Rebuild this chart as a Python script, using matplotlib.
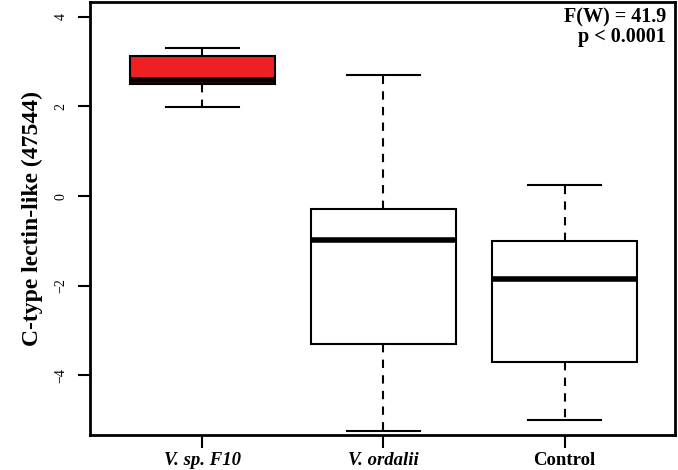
import matplotlib
matplotlib.use('Agg')
import matplotlib.pyplot as plt

# dữ liệu
groups = ['V. sp. F10', 'V. ordalii', 'Control']
q1 = [2.49, -3.30, -3.71]
med = [2.58, -0.97, -1.85]
q3 = [3.12, -0.28, -1.00]
whislo = [1.99, -5.25, -5.00]
whishi = [3.30, 2.70, 0.24]
box_colors = ['#ee2024', 'white', 'white']
yticks = [-4, -2, 0, 2, 4]

plt.rcParams['font.family'] = ['Liberation Serif', 'DejaVu Serif']

fig = plt.figure(figsize=(6.78, 4.70), dpi=100)
ax = fig.add_axes([90 / 678, 35 / 470, 585 / 678, 433 / 470])

stats = []
for i in range(len(groups)):
    stats.append({'med': med[i], 'q1': q1[i], 'q3': q3[i],
                  'whislo': whislo[i], 'whishi': whishi[i],
                  'fliers': [], 'label': groups[i]})

bp = ax.bxp(stats, positions=[1, 2, 3], widths=0.8, patch_artist=True,
            showfliers=False,
            boxprops=dict(linewidth=1.5, edgecolor='black'),
            medianprops=dict(color='black', linewidth=4, solid_capstyle='butt'),
            whiskerprops=dict(linewidth=1.5, linestyle=(0, (4, 3.5))),
            capprops=dict(linewidth=1.5),
            capwidths=0.4)
for patch, c in zip(bp['boxes'], box_colors):
    patch.set_facecolor(c)

ax.set_xlim(0.38, 3.61)
ax.set_ylim(-5.33, 4.33)

ax.set_yticks(yticks)
ax.set_yticklabels([str(t).replace('-', '\u2212') for t in yticks],
                   rotation=90, va='center', fontsize=10)
ax.tick_params(axis='both', length=9, width=1.5, direction='out')
ax.tick_params(axis='y', pad=7)
ax.tick_params(axis='x', pad=3)

ax.set_xticks([1, 2, 3])
ax.set_xticklabels(groups, fontsize=13.5, fontweight='bold')
for lab in ax.get_xticklabels()[:2]:
    lab.set_style('italic')

for s in ax.spines.values():
    s.set_linewidth(2)

ax.set_ylabel('C-type lectin-like (47544)', fontsize=17, fontweight='bold')
ax.yaxis.set_label_coords(-0.08, 0.5)

ax.text(0.985, 0.988, 'F(W) = 41.9\np < 0.0001', transform=ax.transAxes,
        ha='right', va='top', fontsize=14.5, fontweight='bold',
        linespacing=1.0)

plt.savefig('out.png', dpi=100)
